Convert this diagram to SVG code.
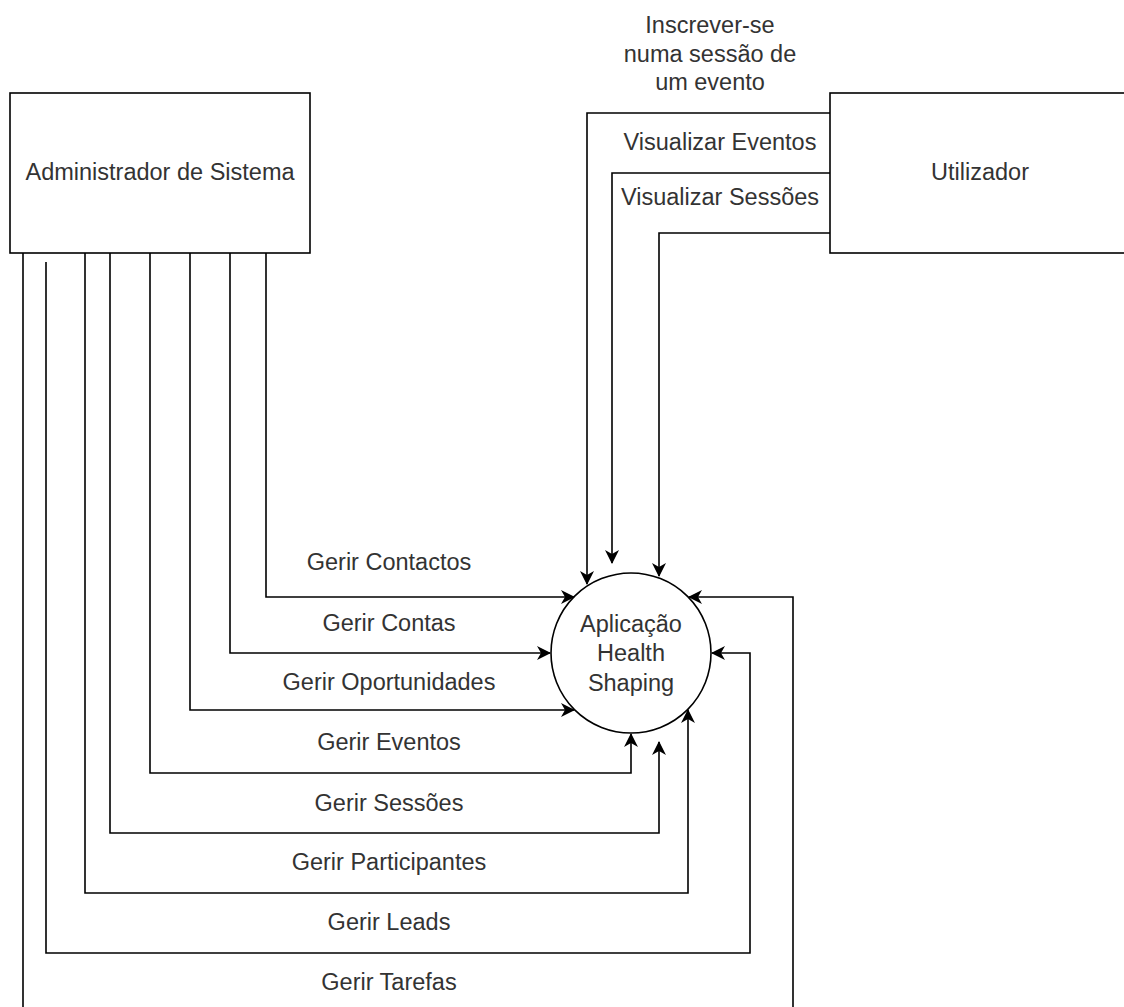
<svg xmlns="http://www.w3.org/2000/svg" width="1124" height="1007" viewBox="0 0 1124 1007">
  <style>
    .box { fill: #ffffff; stroke: #000000; stroke-width: 1.6; }
    .flow { fill: none; stroke: #000000; stroke-width: 1.6; marker-end: url(#arrow); }
    .label { font-family: "Liberation Sans", Arial, sans-serif; font-size: 23.5px; fill: #333333; text-anchor: middle; }
  </style>
  <defs>
    <marker id="arrow" markerUnits="userSpaceOnUse" viewBox="0 0 14 14" refX="13" refY="7" markerWidth="14" markerHeight="14" orient="auto">
      <path d="M0,0 L14,7 L0,14 L4,7 Z" fill="#000000"/>
    </marker>
  </defs>
  <rect width="1124" height="1007" fill="#ffffff"/>

  <!-- external entities and the central process -->
  <g id="admin">
    <rect class="box" x="10" y="93" width="300" height="160"/>
    <text class="label" x="160" y="180">Administrador de Sistema</text>
  </g>
  <g id="utilizador">
    <rect class="box" x="830" y="93" width="300" height="160"/>
    <text class="label" x="980" y="180">Utilizador</text>
  </g>
  <g id="aplicacao">
    <circle class="box" cx="631" cy="653" r="80"/>
    <text class="label" x="631" y="632">Aplicação</text>
    <text class="label" x="631" y="661">Health</text>
    <text class="label" x="631" y="691">Shaping</text>
  </g>

  <!-- data flows -->
  <g id="connectors">
    <path class="flow" d="M830,113 H587 V584"/>
    <path class="flow" d="M830,173 H612 V563"/>
    <path class="flow" d="M830,233 H659 V576"/>

    <path class="flow" d="M266,253 V597 H574"/>
    <path class="flow" d="M230,253 V653 H550"/>
    <path class="flow" d="M190,253 V710 H574"/>
    <path class="flow" d="M150,253 V773 H631 V734"/>
    <path class="flow" d="M110,253 V833 H659 V742"/>
    <path class="flow" d="M85,253 V893 H688 V710"/>
    <path class="flow" d="M46,262 V953 H750 V653 H712"/>
    <path class="flow" d="M23,253 V1020 H793 V597 H689"/>

    <text class="label" x="710" y="33">Inscrever-se</text>
    <text class="label" x="710" y="62">numa sessão de</text>
    <text class="label" x="710" y="90">um evento</text>
    <text class="label" x="720" y="150">Visualizar Eventos</text>
    <text class="label" x="720" y="205">Visualizar Sessões</text>

    <text class="label" x="389" y="570">Gerir Contactos</text>
    <text class="label" x="389" y="631">Gerir Contas</text>
    <text class="label" x="389" y="690">Gerir Oportunidades</text>
    <text class="label" x="389" y="750">Gerir Eventos</text>
    <text class="label" x="389" y="811">Gerir Sessões</text>
    <text class="label" x="389" y="870">Gerir Participantes</text>
    <text class="label" x="389" y="930">Gerir Leads</text>
    <text class="label" x="389" y="990">Gerir Tarefas</text>
  </g>
</svg>
